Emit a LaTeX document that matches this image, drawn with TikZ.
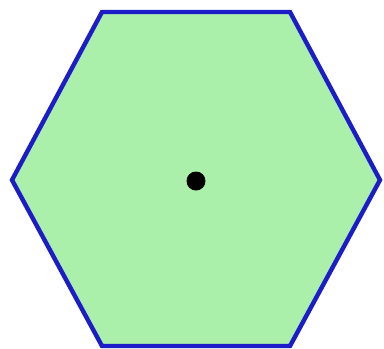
\documentclass[tikz,border=0pt]{standalone}
\usepackage{tikz}
\definecolor{hexfill}{RGB}{170,240,170}
\definecolor{hexline}{RGB}{28,28,200}

\begin{document}
\begin{tikzpicture}[x=1pt,y=-1pt]
 \useasboundingbox (0,0) rectangle (384,349);
 \draw[hexline,fill=hexfill,line width=4.4pt,line join=miter]
   (12,180) -- (102,12) -- (290,12) -- (380,180) -- (290,346) -- (102,346) -- cycle;
 \coordinate (center) at (196,181);
 \fill[black] (center) circle (9.5);
\end{tikzpicture}
\end{document}
